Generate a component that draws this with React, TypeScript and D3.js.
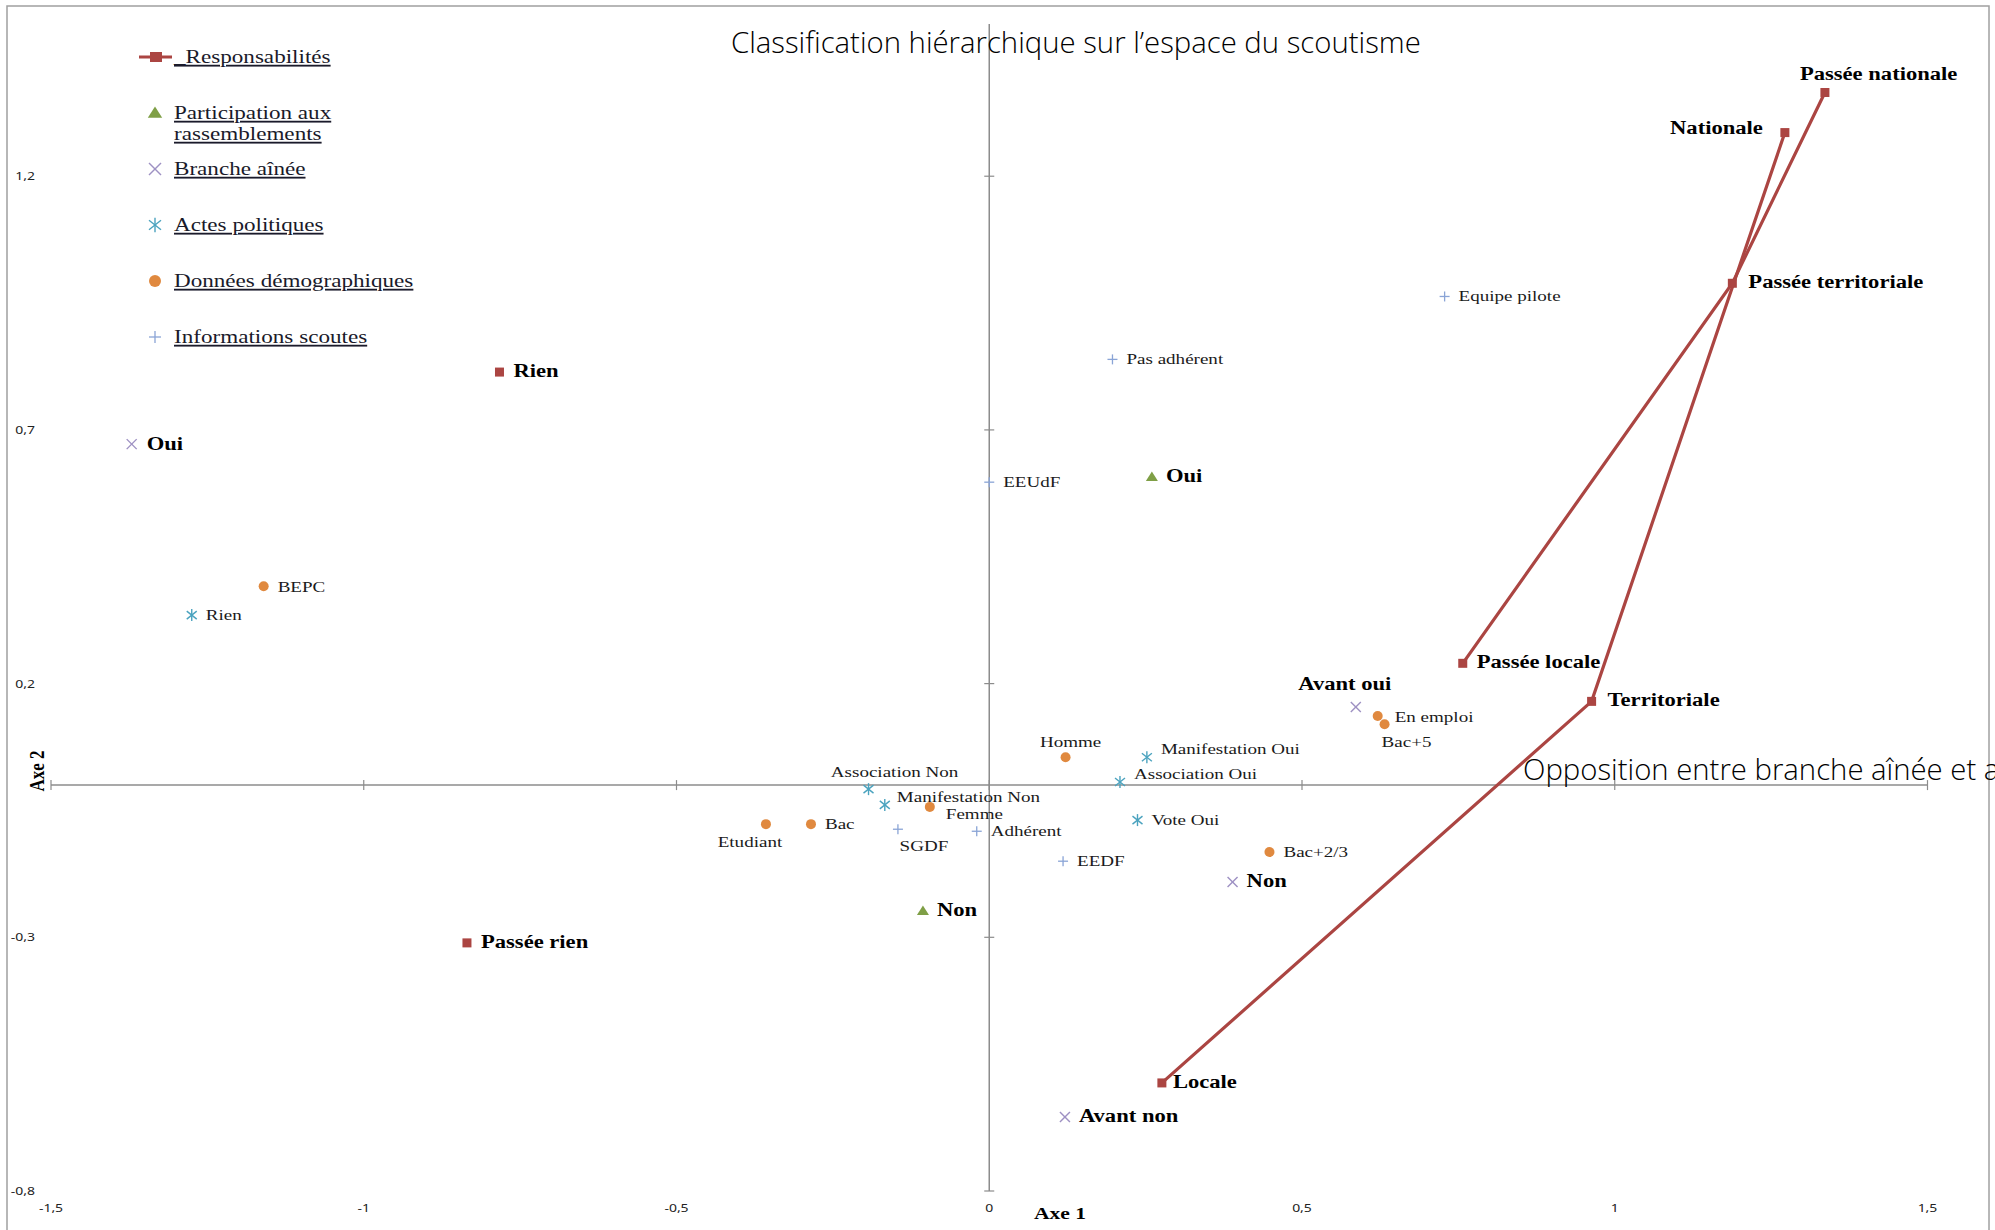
import React from "react";
import * as d3 from "d3";

// ---------- data ----------
const responsabilitesNames = ["Passée nationale", "Nationale", "Passée territoriale", "Passée locale", "Territoriale", "Locale", "Rien", "Passée rien"];
const responsabilitesX = [1.336, 1.272, 1.188, 0.757, 0.963, 0.276, -0.783, -0.835];
const responsabilitesY = [1.365, 1.286, 0.989, 0.240, 0.165, -0.587, 0.814, -0.311];
const responsabilitesPaths = [
  ["Locale", "Territoriale", "Nationale"],
  ["Passée locale", "Passée territoriale", "Passée nationale"],
];

const rassemblementsNames = ["Oui", "Non"];
const rassemblementsX = [0.260, -0.106];
const rassemblementsY = [0.607, -0.248];

const brancheNames = ["Oui", "Avant oui", "Non", "Avant non"];
const brancheX = [-1.371, 0.586, 0.389, 0.121];
const brancheY = [0.672, 0.154, -0.191, -0.654];

const actesNames = ["Rien", "Association Non", "Manifestation Non", "Manifestation Oui", "Association Oui", "Vote Oui"];
const actesX = [-1.275, -0.193, -0.167, 0.252, 0.209, 0.237];
const actesY = [0.335, -0.008, -0.039, 0.055, 0.006, -0.069];

const demoNames = ["BEPC", "Homme", "Femme", "Bac", "Etudiant", "En emploi", "Bac+5", "Bac+2/3"];
const demoX = [-1.160, 0.122, -0.095, -0.285, -0.357, 0.621, 0.632, 0.448];
const demoY = [0.392, 0.055, -0.043, -0.077, -0.077, 0.136, 0.120, -0.132];

const infoNames = ["Equipe pilote", "Pas adhérent", "EEUdF", "SGDF", "Adhérent", "EEDF"];
const infoX = [0.728, 0.197, 0.0, -0.146, -0.020, 0.118];
const infoY = [0.963, 0.839, 0.597, -0.087, -0.091, -0.150];

const xTicks = [-1.5, -1, -0.5, 0, 0.5, 1, 1.5];
const yTicks = [1.2, 0.7, 0.2, -0.3, -0.8];

const legendLabels = ["_Responsabilités", "Participation aux|rassemblements", "Branche aînée", "Actes politiques", "Données démographiques", "Informations scoutes"];

const title = "Classification hiérarchique sur l’espace du scoutisme";
const subtitle = "Opposition entre branche aînée et a";
const xTitle = "Axe 1";
const yTitle = "Axe 2";

// ---------- style ----------
const W = 1995;
const H = 1230;
const SX = 1.27;
const SERIF = "'Liberation Serif', 'Times New Roman', serif";
const SANS = "'Noto Sans', 'DejaVu Sans', sans-serif";
const C_RESP = "#AB4542";
const C_RASS = "#7F9F46";
const C_BRAN = "#9E91C3";
const C_ACT = "#4BA3BF";
const C_DEMO = "#E0893F";
const C_INFO = "#8AA4D6";
const AXIS = "#8c8c8c";

type Off = { dx: number; dy: number; anchor: "start" | "middle" | "end" };
const DEF: Off = { dx: 14, dy: 5, anchor: "start" };
const labelOffsets: Record<string, Off> = {
  "resp:Passée nationale": { dx: -25, dy: -12, anchor: "start" },
  "resp:Nationale": { dx: -22, dy: 1, anchor: "end" },
  "resp:Passée territoriale": { dx: 16, dy: 5, anchor: "start" },
  "resp:Territoriale": { dx: 16, dy: 5, anchor: "start" },
  "resp:Locale": { dx: 11, dy: 5, anchor: "start" },
  "bran:Avant oui": { dx: -11, dy: -17, anchor: "middle" },
  "bran:Oui": { dx: 15, dy: 6, anchor: "start" },
  "demo:Homme": { dx: 5, dy: -10, anchor: "middle" },
  "demo:Etudiant": { dx: -16, dy: 23, anchor: "middle" },
  "demo:Bac+5": { dx: -3, dy: 23, anchor: "start" },
  "demo:Femme": { dx: 16, dy: 12, anchor: "start" },
  "demo:En emploi": { dx: 17, dy: 6, anchor: "start" },
  "demo:BEPC": { dx: 14, dy: 6, anchor: "start" },
  "act:Association Non": { dx: 26, dy: -12, anchor: "middle" },
  "act:Manifestation Oui": { dx: 14, dy: -3, anchor: "start" },
  "act:Association Oui": { dx: 14, dy: -3, anchor: "start" },
  "act:Manifestation Non": { dx: 12, dy: -3, anchor: "start" },
  "info:SGDF": { dx: 26, dy: 22, anchor: "middle" },
};

const xS = d3.scaleLinear().domain([-1.5, 1.5]).range([51, 1927.5]);
const yS = d3.scaleLinear().domain([-0.8, 1.5]).range([1191, 24]);

function Txt(props: { x: number; y: number; text: string; anchor?: string; bold?: boolean; size: number; family?: string; fill?: string; underline?: boolean; weight?: number }) {
  const { x, y, text, anchor = "start", bold, size, family = SERIF, fill = "#111", underline, weight } = props;
  return (
    <g transform={`translate(${x},${y}) scale(${SX},1)`}>
      <text textAnchor={anchor as any} fontFamily={family} fontSize={size} fontWeight={weight ?? (bold ? 700 : 400)} fill={fill} textDecoration={underline ? "underline" : undefined}>
        {text}
      </text>
    </g>
  );
}

type Kind = "square" | "triangle" | "x" | "asterisk" | "circle" | "plus";
function Marker({ kind, x, y, color, big }: { kind: Kind; x: number; y: number; color: string; big?: boolean }) {
  const k = big ? 1.2 : 1;
  switch (kind) {
    case "square":
      return <rect x={x - 4.5 * k} y={y - 4.5 * k} width={9 * k} height={9 * k} fill={color} />;
    case "triangle":
      return <path d={`M${x},${y - 5.5 * k}L${x + 6 * k},${y + 4 * k}L${x - 6 * k},${y + 4 * k}Z`} fill={color} />;
    case "circle":
      return <circle cx={x} cy={y} r={5 * k} fill={color} />;
    case "x":
      return (
        <g stroke={color} strokeWidth={1.4}>
          <line x1={x - 5 * k} y1={y - 5 * k} x2={x + 5 * k} y2={y + 5 * k} />
          <line x1={x - 5 * k} y1={y + 5 * k} x2={x + 5 * k} y2={y - 5 * k} />
        </g>
      );
    case "asterisk":
      return (
        <g stroke={color} strokeWidth={1.4}>
          <line x1={x} y1={y - 6 * k} x2={x} y2={y + 6 * k} />
          <line x1={x - 5 * k} y1={y - 4 * k} x2={x + 5 * k} y2={y + 4 * k} />
          <line x1={x - 5 * k} y1={y + 4 * k} x2={x + 5 * k} y2={y - 4 * k} />
        </g>
      );
    case "plus":
      return (
        <g stroke={color} strokeWidth={1.3}>
          <line x1={x - 5 * k} y1={y} x2={x + 5 * k} y2={y} />
          <line x1={x} y1={y - 5 * k} x2={x} y2={y + 5 * k} />
        </g>
      );
  }
  return null;
}

type Series = { key: string; names: string[]; xs: number[]; ys: number[]; kind: Kind; color: string; bold: boolean };
const seriesList: Series[] = [
  { key: "resp", names: responsabilitesNames, xs: responsabilitesX, ys: responsabilitesY, kind: "square", color: C_RESP, bold: true },
  { key: "rass", names: rassemblementsNames, xs: rassemblementsX, ys: rassemblementsY, kind: "triangle", color: C_RASS, bold: true },
  { key: "bran", names: brancheNames, xs: brancheX, ys: brancheY, kind: "x", color: C_BRAN, bold: true },
  { key: "act", names: actesNames, xs: actesX, ys: actesY, kind: "asterisk", color: C_ACT, bold: false },
  { key: "demo", names: demoNames, xs: demoX, ys: demoY, kind: "circle", color: C_DEMO, bold: false },
  { key: "info", names: infoNames, xs: infoX, ys: infoY, kind: "plus", color: C_INFO, bold: false },
];

export default function App() {
  const line = d3
    .line<string>()
    .x((n) => xS(responsabilitesX[responsabilitesNames.indexOf(n)]))
    .y((n) => yS(responsabilitesY[responsabilitesNames.indexOf(n)]));

  const x0 = xS(0);
  const y0 = yS(0);
  const legendY = [57, 113, 169, 225, 281, 337];
  const legendKinds: Kind[] = ["square", "triangle", "x", "asterisk", "circle", "plus"];
  const legendColors = [C_RESP, C_RASS, C_BRAN, C_ACT, C_DEMO, C_INFO];

  return (
    <svg width={W} height={H} style={{ position: "absolute", left: 0, top: 0, background: "#fff" }}>
      <rect x={0} y={0} width={W} height={H} fill="#fff" />
      <rect x={7} y={6} width={1982} height={1230} fill="none" stroke="#a0a0a0" strokeWidth={1.5} />

      {/* axes */}
      <line x1={xS(-1.5)} y1={y0} x2={xS(1.5)} y2={y0} stroke={AXIS} strokeWidth={1.5} />
      <line x1={x0} y1={yS(1.5)} x2={x0} y2={yS(-0.8)} stroke={AXIS} strokeWidth={1.5} />
      {xTicks.map((t) => (
        <line key={"xt" + t} x1={xS(t)} x2={xS(t)} y1={y0 - 5} y2={y0 + 5} stroke={AXIS} strokeWidth={1.2} />
      ))}
      {yTicks.map((t) => (
        <line key={"yt" + t} x1={x0 - 5} x2={x0 + 5} y1={yS(t)} y2={yS(t)} stroke={AXIS} strokeWidth={1.2} />
      ))}
      {xTicks.map((t) => (
        <Txt key={"xl" + t} x={xS(t)} y={1212} text={d3.format("")(t).replace(".", ",").replace("−", "-")} anchor="middle" size={11} family={SANS} fill="#222" />
      ))}
      {yTicks.map((t) => (
        <Txt key={"yl" + t} x={35} y={yS(t) + 4} text={d3.format("")(t).replace(".", ",").replace("−", "-")} anchor="end" size={11} family={SANS} fill="#222" />
      ))}

      {/* axis titles */}
      <Txt x={1060} y={1219} text={xTitle} anchor="middle" bold size={17} fill="#000" />
      <g transform={`translate(44,771) scale(${SX},1) rotate(-90)`}>
        <text textAnchor="middle" fontFamily={SERIF} fontWeight={700} fontSize={17} fill="#000">{yTitle}</text>
      </g>

      {/* titles */}
      <text x={731} y={53} fontFamily="'Open Sans', sans-serif" fontWeight={300} fontSize={29.3} fill="#000">{title}</text>
      <text x={1523} y={780} fontFamily="'Open Sans', sans-serif" fontWeight={300} fontSize={29.3} fill="#000">{subtitle}</text>

      {/* responsabilités lines */}
      {responsabilitesPaths.map((p, i) => (
        <path key={"rp" + i} d={line(p) || ""} fill="none" stroke={C_RESP} strokeWidth={3.2} />
      ))}

      {/* markers and labels */}
      {seriesList.map((s) =>
        s.names.map((n, i) => {
          const px = xS(s.xs[i]);
          const py = yS(s.ys[i]);
          const off = labelOffsets[`${s.key}:${n}`] || DEF;
          return (
            <g key={s.key + n}>
              <Marker kind={s.kind} x={px} y={py} color={s.color} />
              <Txt x={px + off.dx} y={py + off.dy} text={n} anchor={off.anchor} bold={s.bold} size={s.bold ? 17.8 : 15} fill={s.bold ? "#000" : "#1a1a1a"} />
            </g>
          );
        })
      )}

      {/* legend */}
      <line x1={139} x2={172} y1={legendY[0]} y2={legendY[0]} stroke={C_RESP} strokeWidth={3} />
      {legendLabels.map((lab, i) => {
        const lines = lab.split("|");
        return (
          <g key={"lg" + i}>
            {i === 0 ? (
              <rect x={150} y={legendY[0] - 5} width={12} height={10} fill={C_RESP} />
            ) : (
              <Marker kind={legendKinds[i]} x={155} y={legendY[i]} color={legendColors[i]} big />
            )}
            {lines.map((l, j) => (
              <Txt key={j} x={174} y={legendY[i] + 6 + j * 21} text={l} size={18.2} fill="#1a1a2a" underline />
            ))}
          </g>
        );
      })}
    </svg>
  );
}
